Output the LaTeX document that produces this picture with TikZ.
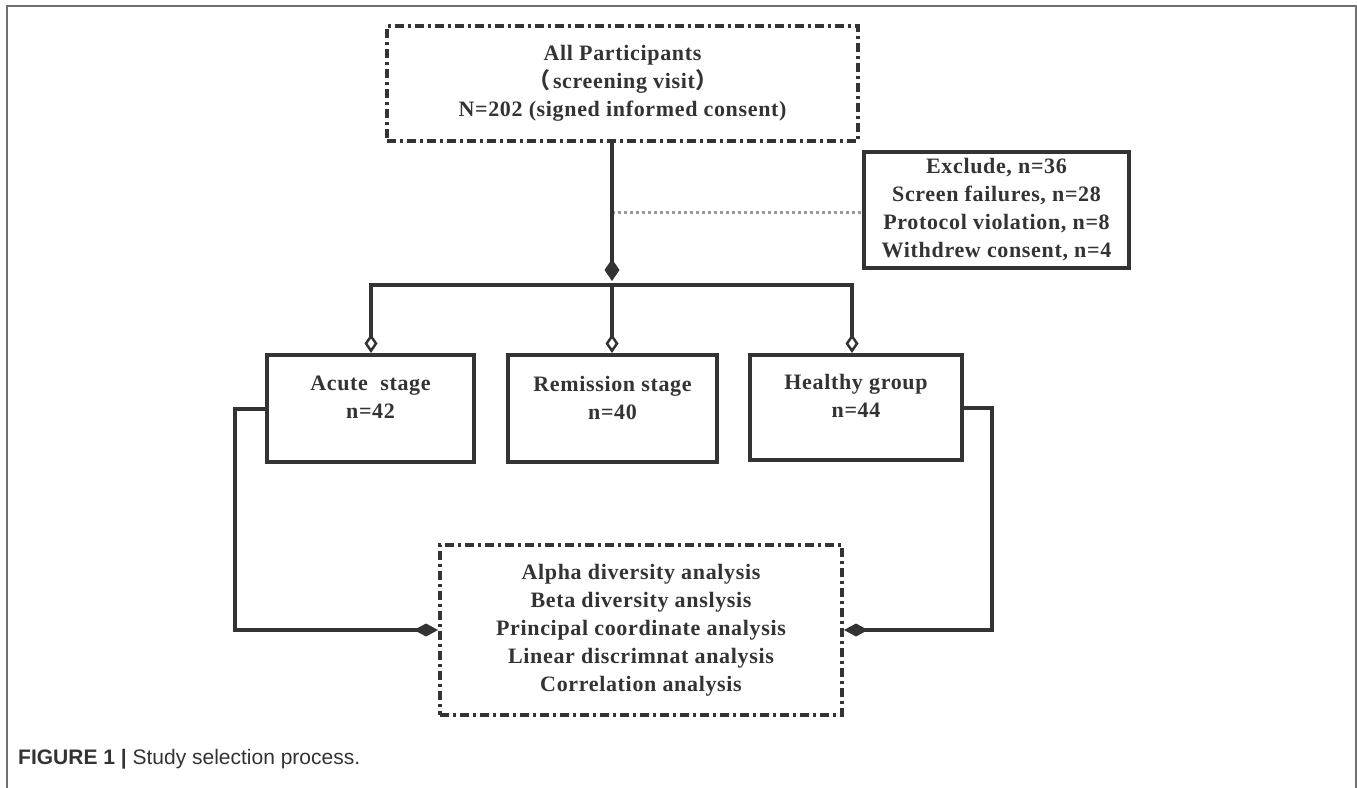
\documentclass[tikz,border=0pt]{standalone}
\usepackage{fontspec}
\setmainfont{Liberation Serif}[LetterSpace=3]
\setsansfont{Liberation Sans}
\newfontfamily\cjk{Noto Sans CJK SC}
\usetikzlibrary{arrows.meta}
\definecolor{ink}{HTML}{333333}
\definecolor{framegray}{HTML}{707070}
\definecolor{dotgray}{HTML}{9A9A9A}
\definecolor{captext}{HTML}{333333}
\tikzset{
  solidbox/.style={draw=ink, line width=4pt, inner sep=0pt},
  dashbox/.style={draw=ink, line width=4pt, inner sep=0pt, dash pattern=on 9pt off 4pt on 3pt off 4pt},
  txt/.style={font=\fontsize{22}{28}\selectfont\bfseries, text=ink, align=center, inner sep=0pt},
  link/.style={draw=ink, line width=4pt, line join=miter},
  opentip/.style={-{Diamond[length=19pt,width=13pt,fill=white,line width=2.5pt]}},
  fulltip/.style={-{Diamond[length=24pt,width=13pt]}},
  trunktip/.style={-{Diamond[length=22pt,width=15pt]}},
  dotlink/.style={draw=dotgray, line width=3pt, dash pattern=on 3pt off 3pt}
}
\begin{document}
\begin{tikzpicture}[x=1pt,y=-1pt]
\useasboundingbox (0,0) rectangle (1357,787);
% frame
\draw[framegray, line width=2pt] (7,800) -- (7,6) -- (1356,6) -- (1356,800);

% boxes
\node[dashbox, txt, minimum width=471pt, minimum height=115pt] (top) at (622.5,83.5)
  {All Participants\\{\cjk （}\kern3pt screening visit{\cjk ）}\\N=202 (signed informed consent)};
\node[solidbox, txt, line width=4.5pt, minimum width=265pt, minimum height=116pt] (excl) at (996.5,210)
  {Exclude, n=36\\Screen failures, n=28\\Protocol violation, n=8\\Withdrew consent, n=4};
\node[solidbox, minimum width=207pt, minimum height=107pt] (acute) at (370.5,408.5) {};
\node[solidbox, minimum width=209pt, minimum height=107pt] (remis) at (612.5,408.5) {};
\node[solidbox, minimum width=212pt, minimum height=105pt] (healthy) at (856,407.5) {};
\node[txt] (acutetxt) at (370.5,397.5) {Acute\ \ stage\\n=42};
\node[txt] (remistxt) at (612.5,397.5) {Remission stage\\n=40};
\node[txt] (healthytxt) at (856,395.5) {Healthy group\\n=44};
\node[dashbox, txt, minimum width=402pt, minimum height=170pt] (anal) at (641,630)
  {Alpha diversity analysis\\Beta diversity anslysis\\Principal coordinate analysis\\Linear discrimnat analysis\\Correlation analysis};

% connectors
\coordinate (trunkend) at (612,281);
\coordinate (split) at (612,285);
\coordinate (busL) at (371,285);
\coordinate (busR) at (852,285);
\coordinate (dotstart) at (612,212);
\coordinate (lx) at (235,0);
\coordinate (rx) at (992,0);

\draw[dotlink] (dotstart) -- (dotstart -| excl.west);
\draw[link, trunktip] (top.south -| trunkend) -- (trunkend);
\draw[link, opentip] (busR) -- (busL) -- (busL |- acute.north);
\draw[link, opentip] (busL) -- (busR) -- (busR |- healthy.north);
\draw[link, opentip] (split) -- (split |- remis.north);
\draw[link, fulltip] (acute.west) -| (lx |- anal.west) -- (anal.west);
\draw[link, fulltip] (healthy.east) -| (rx |- anal.east) -- (anal.east);

% caption
\node[anchor=base west, inner sep=0pt, font=\sffamily\fontsize{21}{25}\selectfont, text=captext] (cap) at (18,764)
  {\textbf{FIGURE 1 |} Study selection process.};
\end{tikzpicture}
\end{document}
